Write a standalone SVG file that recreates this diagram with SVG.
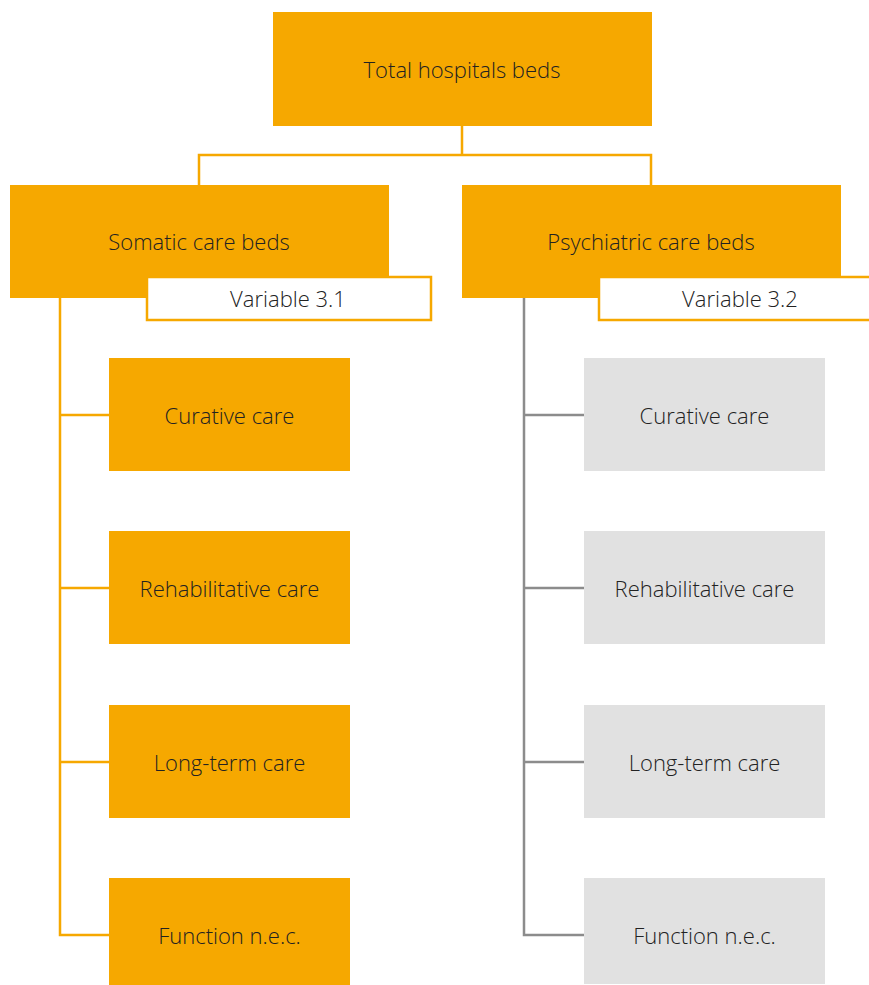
<svg xmlns="http://www.w3.org/2000/svg" width="869" height="985" viewBox="0 0 869 985">
<style>
.o{fill:#F6A800}
.g{fill:#E1E1E1}
.v{fill:#FFFFFF;stroke:#F6A800;stroke-width:2.5}
text{font-family:"Open Sans","Noto Sans","Liberation Sans",sans-serif;font-size:22px;font-weight:300;fill:#222222;text-anchor:middle;dominant-baseline:central}
.co{fill:none;stroke:#F6A800;stroke-width:2.5}
.cg{fill:none;stroke:#8C8C8C;stroke-width:2.5}
</style>
<rect width="869" height="985" fill="#FFFFFF"/>
<g id="connectors">
<path class="co" d="M462,126 V155 M199,185 V155 H651 V185"/>
<path class="co" d="M60,298 V935 H109 M60,415 H109 M60,588 H109 M60,762 H109"/>
<path class="cg" d="M524,298 V935 H584 M524,415 H584 M524,588 H584 M524,762 H584"/>
</g>
<g id="total"><rect class="o" x="273" y="12" width="379" height="114"/><text x="462" y="69">Total hospitals beds</text></g>
<g id="somatic"><rect class="o" x="10" y="185" width="379" height="113"/><text x="199" y="241">Somatic care beds</text></g>
<g id="var31"><rect class="v" x="147" y="277" width="284" height="43"/><text x="288" y="298">Variable 3.1</text></g>
<g id="psychiatric"><rect class="o" x="462" y="185" width="379" height="113"/><text x="651" y="241">Psychiatric care beds</text></g>
<g id="var32"><rect class="v" x="599" y="277" width="290" height="43"/><text x="740" y="298">Variable 3.2</text></g>
<g id="s-curative"><rect class="o" x="109" y="358" width="241" height="113"/><text x="229.5" y="415">Curative care</text></g>
<g id="s-rehab"><rect class="o" x="109" y="531" width="241" height="113"/><text x="229.5" y="588">Rehabilitative care</text></g>
<g id="s-longterm"><rect class="o" x="109" y="705" width="241" height="113"/><text x="229.5" y="762">Long-term care</text></g>
<g id="s-function"><rect class="o" x="109" y="878" width="241" height="107"/><text x="229.5" y="935">Function n.e.c.</text></g>
<g id="p-curative"><rect class="g" x="584" y="358" width="241" height="113"/><text x="704.5" y="415">Curative care</text></g>
<g id="p-rehab"><rect class="g" x="584" y="531" width="241" height="113"/><text x="704.5" y="588">Rehabilitative care</text></g>
<g id="p-longterm"><rect class="g" x="584" y="705" width="241" height="113"/><text x="704.5" y="762">Long-term care</text></g>
<g id="p-function"><rect class="g" x="584" y="878" width="241" height="106"/><text x="704.5" y="935">Function n.e.c.</text></g>
</svg>
